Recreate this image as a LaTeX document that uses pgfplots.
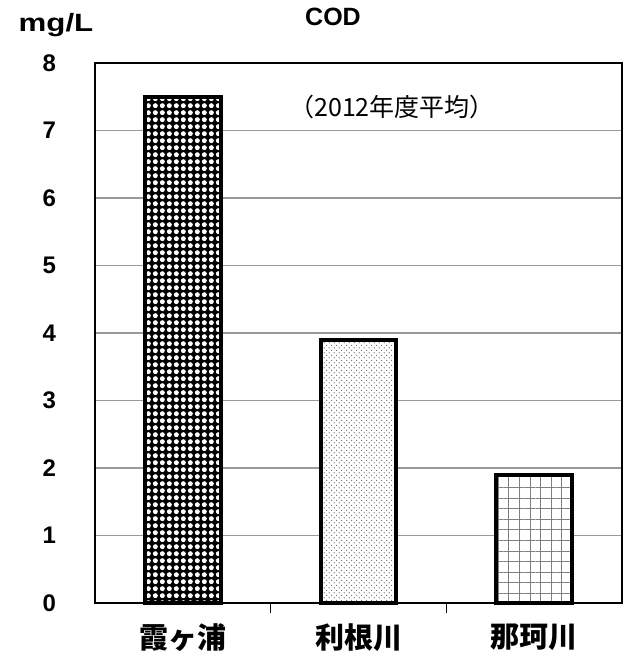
\documentclass[border=0pt]{standalone}
\usepackage{pgfplots}
\pgfplotsset{compat=1.18}
\usepackage{fontspec}
\setmainfont{Liberation Sans}
\newfontfamily\widefont{Liberation Sans}[FakeStretch=1.25]
\newfontfamily\jp{Noto Sans CJK JP}
\usetikzlibrary{patterns,patterns.meta}
\pgfdeclarepatternformonly{bigdots}{\pgfpoint{0pt}{0pt}}{\pgfpoint{3.65pt}{3.65pt}}{\pgfpoint{3.65pt}{3.65pt}}{%
  \pgfpathcircle{\pgfpoint{1.825pt}{1.825pt}}{1.35pt}\pgfusepath{fill}}
\pgfdeclarepatternformonly{finedots}{\pgfpoint{0pt}{0pt}}{\pgfpoint{2.7pt}{2.7pt}}{\pgfpoint{2.7pt}{2.7pt}}{%
  \pgfpathcircle{\pgfpoint{0.675pt}{0.675pt}}{0.3pt}\pgfusepath{fill}%
  \pgfpathcircle{\pgfpoint{2.025pt}{2.025pt}}{0.3pt}\pgfusepath{fill}}
\begin{document}
\begin{tikzpicture}
\useasboundingbox (-47.5pt,-27pt) rectangle (267.5pt,301.5pt);
\begin{axis}[
  at={(0,0)}, anchor=south west,
  scale only axis, width=263.5pt, height=270pt,
  xmin=-0.5, xmax=2.5, ymin=0, ymax=8,
  ytick={0,1,...,8},
  xtick={0,1,2},
  xticklabels={霞ヶ浦,利根川,那珂川},
  xticklabel style={font=\jp\bfseries\fontsize{14.5}{16}\selectfont, yshift=-7pt},
  yticklabel style={font=\bfseries\fontsize{12}{14}\selectfont, xshift=-16pt},
  /pgf/number format/assume math mode=true,
  major tick length=0pt,
  minor xtick={0.5,1.5},
  minor tick length=5pt,
  xtick pos=bottom, ytick pos=left,
  tick align=inside,
  minor tick style={black, line width=0.6pt},
  ymajorgrids,
  major grid style={gray!80, line width=0.6pt},
  axis line style={black, line width=1pt},
  ybar, bar width=0.43, bar shift=0pt,
  clip=false,
]
\addplot[draw=black, line width=2pt, preaction={fill=black},
  pattern=bigdots, pattern color=white]
  coordinates {(0,7.5)};
\addplot[draw=black, line width=2pt, preaction={fill=white},
  pattern=finedots, pattern color=black!75]
  coordinates {(1,3.9)};
\addplot[draw=black, line width=2pt, preaction={fill=white},
  pattern={Hatch[angle=0, distance=5.3pt, line width=0.35pt]}, pattern color=black!50]
  coordinates {(2,1.9)};
\end{axis}
\node[font=\widefont\bfseries\fontsize{12.5}{14}\selectfont] at (-19.5pt,289pt) {mg/L};
\node[font=\bfseries\fontsize{12.5}{14}\selectfont] at (119pt,293pt) {COD};
\node[font=\jp\fontsize{12.5}{14}\selectfont] at (148.5pt,248pt) {（2012年度平均）};
\end{tikzpicture}
\end{document}
